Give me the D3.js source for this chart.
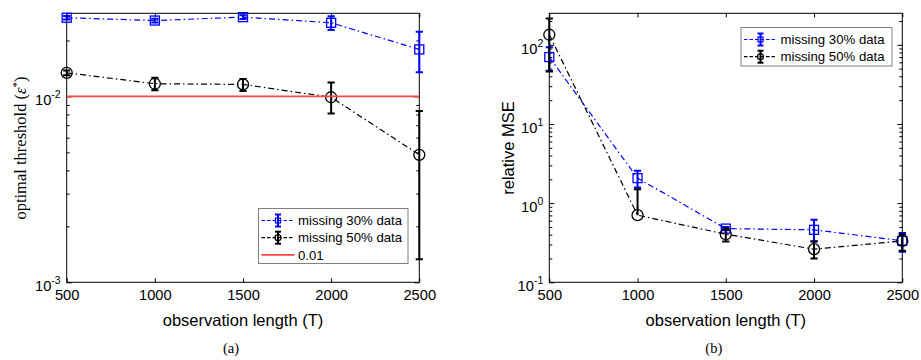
<!DOCTYPE html>
<html><head><meta charset="utf-8">
<script src="https://cdn.jsdelivr.net/npm/d3@7"></script>
</head>
<body style="margin:0;background:#fff"><svg id="c" width="921" height="360"></svg>
<script>
// ---- data ----
const T = [500, 1000, 1500, 2000, 2500];
const xTicks = [500, 1000, 1500, 2000, 2500];

// (a) optimal threshold
const thr30    = [0.0265, 0.0256, 0.0267, 0.0249, 0.0179];
const thr30Lo  = [0.0259, 0.0250, 0.0261, 0.0228, 0.0135];
const thr30Hi  = [0.0271, 0.0262, 0.0273, 0.0270, 0.0223];
const thr50    = [0.0134, 0.0117, 0.0116, 0.0099, 0.00485];
const thr50Lo  = [0.0130, 0.0108, 0.0107, 0.0081, 0.00133];
const thr50Hi  = [0.0138, 0.0126, 0.0124, 0.0119, 0.00834];
const refLevel = 0.01;
const aYTicks = [-3, -2];

// (b) relative MSE
const mse30    = [70, 2.07, 0.477, 0.46, 0.335];
const mse30Lo  = [47, 1.58, 0.455, 0.33, 0.243];
const mse30Hi  = [93, 2.56, 0.50, 0.615, 0.42];
const mse50    = [134, 0.705, 0.405, 0.262, 0.333];
const mse50Lo  = [46, null, 0.327, 0.200, 0.25];
const mse50Hi  = [215, 1.50, 0.477, 0.327, 0.405];
const bYTicks = [-1, 0, 1, 2];

const legA = ["missing 30% data", "missing 50% data", "0.01"];
const legB = ["missing 30% data", "missing 50% data"];

// ---- drawing ----
const SANS = "Liberation Sans, Arial, sans-serif";
const SERIF = "Liberation Serif, Times New Roman, serif";
const svg = d3.select("#c");
const BLUE = "#0000ff", BLACK = "#000000", RED = "#ff4545";
const DASHDOT = "6,3,1.5,3";

function txt(sel, size, fam){ return sel.style("font-family", fam || SANS).style("font-size", size + "px").style("fill", "#000"); }

function panel(opt){
  const x = d3.scaleLinear().domain([500, 2500]).range(opt.xr);
  const y = d3.scaleLog().domain(opt.yd).range([282.3, 13.3]);
  const g = svg.append("g");
  const [x0, x1] = opt.xr, y0 = 282.3, y1 = 13.3;
  const clipId = "clip" + opt.id;
  svg.append("clipPath").attr("id", clipId).append("rect")
    .attr("x", x0 - 8).attr("y", y1 - 8).attr("width", x1 - x0 + 16).attr("height", y0 - y1 + 16);

  const axB = d3.axisBottom(x).tickValues(xTicks).tickSizeInner(-4).tickSizeOuter(0).tickPadding(9).tickFormat(d3.format("d"));
  const gb = g.append("g").attr("transform", `translate(0,${y0})`).call(axB);
  gb.select(".domain").remove();
  gb.selectAll("line").attr("stroke", "#000");
  txt(gb.selectAll("text"), 14.7).attr("dy", "0.71em").attr("y", 7);
  const axT = d3.axisTop(x).tickValues(xTicks).tickSizeInner(-4).tickSizeOuter(0).tickFormat("");
  const gt = g.append("g").attr("transform", `translate(0,${y1})`).call(axT);
  gt.select(".domain").remove();

  const minor = [];
  const lo = Math.floor(Math.log10(opt.yd[0])), hi = Math.ceil(Math.log10(opt.yd[1]));
  for (let e = lo; e < hi; e++) for (let m = 1; m <= 9; m++) {
    const v = m * Math.pow(10, e);
    if (v >= opt.yd[0] && v <= opt.yd[1]) minor.push(v);
  }
  const isMajor = d => Math.abs(Math.log10(d) - Math.round(Math.log10(d))) < 1e-9;
  const axL = d3.axisLeft(y).tickValues(minor).tickSizeInner(-3).tickSizeOuter(0).tickFormat("");
  const gl = g.append("g").attr("transform", `translate(${x0},0)`).call(axL);
  gl.select(".domain").remove();
  gl.selectAll(".tick line").attr("x2", d => isMajor(d) ? 5 : 3);
  const axR = d3.axisRight(y).tickValues(minor).tickSizeInner(-3).tickSizeOuter(0).tickFormat("");
  const gr = g.append("g").attr("transform", `translate(${x1},0)`).call(axR);
  gr.select(".domain").remove();
  gr.selectAll(".tick line").attr("x2", d => isMajor(d) ? -5 : -3);

  opt.yTicks.forEach(e => {
    const t = txt(g.append("text"), 14.7).attr("x", x0 - 6).attr("y", y(Math.pow(10, e)) + 9)
      .attr("text-anchor", "end");
    t.append("tspan").text("10");
    t.append("tspan").style("font-size", "10.5px").attr("dy", -7).text(String(e));
  });

  g.append("rect").attr("x", x0).attr("y", y1).attr("width", x1 - x0).attr("height", y0 - y1)
    .attr("fill", "none").attr("stroke", "#000").attr("stroke-width", 1);

  txt(g.append("text"), 16.5).attr("x", (x0 + x1) / 2).attr("y", 326).attr("text-anchor", "middle")
    .text("observation length (T)");
  txt(g.append("text"), 14.5, SERIF).attr("x", (x0 + x1) / 2 - 12).attr("y", 353).attr("text-anchor", "middle")
    .text(opt.letter);

  const data = g.append("g").attr("clip-path", `url(#${clipId})`);
  const line = d3.line().x((d, i) => x(T[i])).y(d => y(d));
  opt.series.forEach(s => {
    if (s.ref) {
      data.append("line").attr("x1", x0).attr("x2", x1).attr("y1", y(s.ref)).attr("y2", y(s.ref))
        .attr("stroke", RED).attr("stroke-width", 1.6);
      return;
    }
    data.append("path").attr("d", line(s.v)).attr("fill", "none").attr("stroke", s.color)
      .attr("stroke-width", 1.2).attr("stroke-dasharray", DASHDOT);
    s.v.forEach((v, i) => {
      const cx = x(T[i]);
      const top = y(s.hi[i]);
      const bot = s.lo[i] == null ? y(v) : y(s.lo[i]);
      data.append("line").attr("x1", cx).attr("x2", cx).attr("y1", top).attr("y2", bot)
        .attr("stroke", s.color).attr("stroke-width", 2);
      data.append("line").attr("x1", cx - 3.6).attr("x2", cx + 3.6).attr("y1", top).attr("y2", top)
        .attr("stroke", s.color).attr("stroke-width", 2);
      if (s.lo[i] != null)
        data.append("line").attr("x1", cx - 3.6).attr("x2", cx + 3.6).attr("y1", bot).attr("y2", bot)
          .attr("stroke", s.color).attr("stroke-width", 2);
    });
    s.v.forEach((v, i) => {
      const cx = x(T[i]), cy = y(v);
      if (s.marker === "square")
        data.append("rect").attr("x", cx - 4.5).attr("y", cy - 4.5).attr("width", 9).attr("height", 9)
          .attr("fill", "none").attr("stroke", s.color).attr("stroke-width", 1.3);
      else
        data.append("circle").attr("cx", cx).attr("cy", cy).attr("r", 5.5)
          .attr("fill", "none").attr("stroke", s.color).attr("stroke-width", 1.3);
    });
  });

  const L = opt.legend;
  const lg = g.append("g");
  lg.append("rect").attr("x", L.x).attr("y", L.y).attr("width", L.w).attr("height", L.h)
    .attr("fill", "#fff").attr("stroke", "#808080").attr("stroke-width", 1);
  opt.series.forEach((s, i) => {
    const ry = L.y + 12 + i * 17.2;
    const sx0 = L.x + 3, sx1 = L.x + 36, mx = (sx0 + sx1) / 2;
    if (s.ref) {
      lg.append("line").attr("x1", sx0).attr("x2", sx1).attr("y1", ry).attr("y2", ry)
        .attr("stroke", RED).attr("stroke-width", 1.6);
    } else {
      lg.append("line").attr("x1", sx0).attr("x2", sx1).attr("y1", ry).attr("y2", ry)
        .attr("stroke", s.color).attr("stroke-width", 1.2).attr("stroke-dasharray", "3.5,2");
      lg.append("line").attr("x1", mx).attr("x2", mx).attr("y1", ry - 6).attr("y2", ry + 6)
        .attr("stroke", s.color).attr("stroke-width", 2);
      [ry - 6, ry + 6].forEach(yy => lg.append("line").attr("x1", mx - 3).attr("x2", mx + 3)
        .attr("y1", yy).attr("y2", yy).attr("stroke", s.color).attr("stroke-width", 2));
      if (s.marker === "square")
        lg.append("rect").attr("x", mx - 2.5).attr("y", ry - 2.5).attr("width", 5).attr("height", 5)
          .attr("fill", "none").attr("stroke", s.color).attr("stroke-width", 1.2);
      else
        lg.append("circle").attr("cx", mx).attr("cy", ry).attr("r", 3)
          .attr("fill", "none").attr("stroke", s.color).attr("stroke-width", 1.2);
    }
    txt(lg.append("text"), 13.2).attr("x", L.x + 39.5).attr("y", ry + 4.6).text(opt.legText[i]);
  });
  return g;
}

panel({
  id: "a", xr: [66.7, 419.3], yd: [0.001, 0.028], yTicks: aYTicks, letter: "(a)",
  series: [
    {v: thr30, lo: thr30Lo, hi: thr30Hi, color: BLUE, marker: "square"},
    {v: thr50, lo: thr50Lo, hi: thr50Hi, color: BLACK, marker: "circle"},
    {ref: refLevel}
  ],
  legText: legA,
  legend: {x: 258.5, y: 208.5, w: 149.5, h: 55}
});
panel({
  id: "b", xr: [549.3, 902.3], yd: [0.1, 250], yTicks: bYTicks, letter: "(b)",
  series: [
    {v: mse30, lo: mse30Lo, hi: mse30Hi, color: BLUE, marker: "square"},
    {v: mse50, lo: mse50Lo, hi: mse50Hi, color: BLACK, marker: "circle"}
  ],
  legText: legB,
  legend: {x: 741, y: 27.5, w: 151, h: 38.5}
});

const ta = txt(svg.append("text"), 16.5, SERIF).attr("text-anchor", "middle")
  .attr("transform", "translate(26,148) rotate(-90)");
ta.append("tspan").text("optimal threshold (");
ta.append("tspan").style("font-style", "italic").text("ε");
ta.append("tspan").style("font-size", "11px").attr("dy", -6).text("*");
ta.append("tspan").attr("dy", 6).text(")");

txt(svg.append("text"), 16.5).attr("text-anchor", "middle")
  .attr("transform", "translate(514,148) rotate(-90)").text("relative MSE");
</script></body></html>
